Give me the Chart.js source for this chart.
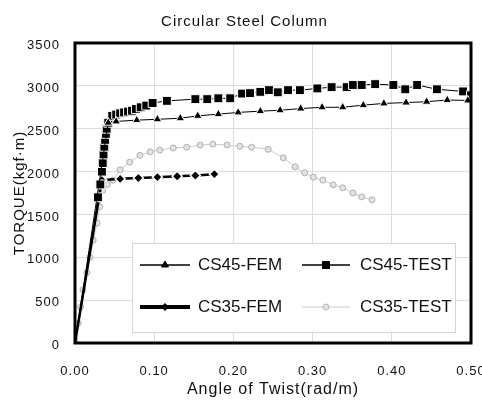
<!DOCTYPE html>
<html>
<head>
<meta charset="utf-8">
<script src="https://cdn.jsdelivr.net/npm/chart.js@4/dist/chart.umd.min.js"></script>
<style>
  html, body { margin: 0; padding: 0; background: #fff; }
  #wrap { width: 482px; height: 401px; }
</style>
</head>
<body>
<div id="wrap"><canvas id="grafico" width="482" height="401"></canvas></div>
<script>
// valores (angulo em rad/m, torque em kgf.m)
const xTickLabels = ['0.00', '0.10', '0.20', '0.30', '0.40', '0.50'];
const yTickLabels = ['0', '500', '1000', '1500', '2000', '2500', '3000', '3500'];

const cs45FemAngle = [0, 0.042, 0.052, 0.078, 0.104, 0.133, 0.155, 0.181, 0.206, 0.234, 0.259, 0.285, 0.312, 0.338, 0.364, 0.390, 0.418, 0.444, 0.470, 0.496];
const cs45FemTorque = [0, 2570, 2585, 2600, 2610, 2622, 2650, 2670, 2690, 2705, 2715, 2735, 2750, 2750, 2775, 2795, 2805, 2815, 2835, 2830];

const cs45TestAngle = [0, 0.012, 0.022, 0.029, 0.032, 0.034, 0.035, 0.036, 0.037, 0.038, 0.039, 0.040, 0.042, 0.047, 0.052, 0.057, 0.062, 0.067, 0.072, 0.077, 0.083, 0.090, 0.098, 0.116, 0.152, 0.167, 0.181, 0.196, 0.211, 0.221, 0.234, 0.245, 0.256, 0.269, 0.284, 0.306, 0.324, 0.343, 0.351, 0.362, 0.379, 0.402, 0.417, 0.432, 0.457, 0.490, 0.500];
const cs45TestTorque = [0, 650, 1250, 1700, 1850, 2000, 2100, 2200, 2290, 2370, 2440, 2500, 2570, 2650, 2665, 2680, 2690, 2700, 2710, 2730, 2750, 2770, 2800, 2825, 2845, 2845, 2855, 2855, 2910, 2915, 2930, 2950, 2925, 2950, 2950, 2970, 2985, 2985, 3010, 3010, 3020, 3010, 2960, 3010, 2960, 2935, 2890];

const cs35FemAngle = [0, 0.034, 0.057, 0.080, 0.104, 0.129, 0.152, 0.176];
const cs35FemTorque = [0, 1900, 1915, 1925, 1935, 1945, 1955, 1970];

const cs35TestAngle = [0, 0.004, 0.007, 0.010, 0.015, 0.019, 0.023, 0.028, 0.031, 0.035, 0.041, 0.048, 0.057, 0.069, 0.082, 0.095, 0.107, 0.124, 0.141, 0.158, 0.174, 0.192, 0.208, 0.223, 0.244, 0.263, 0.278, 0.290, 0.301, 0.313, 0.326, 0.338, 0.351, 0.362, 0.375];
const cs35TestTorque = [35, 230, 420, 620, 820, 1000, 1200, 1400, 1590, 1780, 1850, 1900, 2020, 2110, 2190, 2230, 2250, 2275, 2285, 2310, 2320, 2310, 2295, 2285, 2260, 2160, 2055, 1985, 1935, 1900, 1845, 1810, 1750, 1705, 1670];

const pontos = (xs, ys) => xs.map((x, i) => ({ x: x, y: ys[i] }));
const fonte = 'Liberation Sans, Arial, sans-serif';

// moldura grossa em volta da area do grafico
const moldura = {
  id: 'moldura',
  beforeDraw(chart) {
    chart.ctx.letterSpacing = '1px';
  },
  afterDatasetsDraw(chart) {
    const { ctx, chartArea: a } = chart;
    ctx.save();
    ctx.lineWidth = 3;
    ctx.strokeStyle = '#000';
    ctx.strokeRect(a.left, a.top, a.right - a.left, a.bottom - a.top);
    ctx.restore();
  }
};

// legenda 2x2 dentro da area do grafico
const legenda = {
  id: 'legenda',
  afterDraw(chart) {
    const ctx = chart.ctx;
    ctx.save();
    ctx.fillStyle = '#fff';
    ctx.fillRect(132, 243, 323, 89);
    ctx.strokeStyle = '#d4d4d4';
    ctx.lineWidth = 1;
    ctx.strokeRect(132.5, 243.5, 323, 89);

    const itens = [
      { x1: 140, x2: 190, tx: 198, y: 265, lw: 1.5, r: 4 },
      { x1: 302, x2: 350, tx: 360, y: 265, lw: 1.5, r: 5 },
      { x1: 140, x2: 190, tx: 198, y: 307, lw: 4, r: 3.5 },
      { x1: 302, x2: 350, tx: 360, y: 307, lw: 1, r: 3 }
    ];
    chart.data.datasets.forEach((ds, i) => {
      const it = itens[i];
      ctx.beginPath();
      ctx.strokeStyle = ds.borderColor;
      ctx.lineWidth = it.lw;
      ctx.moveTo(it.x1, it.y);
      ctx.lineTo(it.x2, it.y);
      ctx.stroke();

      ctx.fillStyle = ds.pointBackgroundColor;
      ctx.strokeStyle = i === 3 ? '#b8b8b8' : '#000';
      ctx.lineWidth = 1;
      Chart.helpers.drawPoint(ctx, { pointStyle: ds.pointStyle, radius: it.r, rotation: 0, borderWidth: 1 }, (it.x1 + it.x2) / 2, it.y);

      ctx.fillStyle = '#111';
      ctx.font = '17px ' + fonte;
      ctx.letterSpacing = '0px';
      ctx.textBaseline = 'middle';
      ctx.textAlign = 'left';
      ctx.fillText(ds.label, it.tx, it.y);
    });
    ctx.restore();
  }
};

new Chart(document.getElementById('grafico'), {
  type: 'line',
  data: {
    datasets: [
      {
        label: 'CS45-FEM',
        data: pontos(cs45FemAngle, cs45FemTorque),
        borderColor: '#000',
        borderWidth: 1,
        pointStyle: 'triangle',
        pointRadius: c => c.dataIndex === 0 ? 0 : 5,
        pointBackgroundColor: '#000',
        pointBorderColor: '#fff',
        pointBorderWidth: 1
      },
      {
        label: 'CS45-TEST',
        data: pontos(cs45TestAngle, cs45TestTorque),
        borderColor: '#000',
        borderWidth: 1,
        pointStyle: 'rect',
        pointRadius: c => (c.raw && c.raw.y < 1600) ? 0 : 6.3,
        pointBackgroundColor: '#000',
        pointBorderColor: '#fff',
        pointBorderWidth: 1
      },
      {
        label: 'CS35-FEM',
        data: pontos(cs35FemAngle, cs35FemTorque),
        borderColor: '#000',
        borderWidth: 2.5,
        pointStyle: 'rectRot',
        pointRadius: c => c.dataIndex === 0 ? 0 : 5,
        pointBackgroundColor: '#000',
        pointBorderColor: '#fff',
        pointBorderWidth: 1.5
      },
      {
        label: 'CS35-TEST',
        data: pontos(cs35TestAngle, cs35TestTorque),
        borderColor: '#cccccc',
        borderWidth: 1,
        pointStyle: 'circle',
        pointRadius: 3,
        pointBackgroundColor: '#e2e2e2',
        pointBorderColor: '#b0b0b0',
        pointBorderWidth: 1
      }
    ]
  },
  options: {
    responsive: false,
    animation: false,
    events: [],
    layout: { padding: { left: 18, right: 11, top: 0, bottom: 0 } },
    plugins: {
      legend: { display: false },
      tooltip: { enabled: false },
      title: {
        display: true,
        text: 'Circular Steel Column',
        color: '#111',
        font: { family: fonte, size: 15, weight: 'normal' },
        padding: { top: 13, bottom: 12 }
      }
    },
    scales: {
      x: {
        type: 'linear',
        min: 0,
        max: 0.5,
        afterFit: s => { s.height = 58; s.paddingLeft = 0; s.paddingRight = 0; },
        grid: { color: '#dcdcdc', drawTicks: false },
        border: { display: false },
        ticks: {
          stepSize: 0.1,
          padding: 21,
          maxRotation: 0,
          color: '#111',
          font: { family: fonte, size: 13 },
          callback: (v, i) => xTickLabels[i]
        },
        title: {
          display: true,
          text: 'Angle of Twist(rad/m)',
          color: '#111',
          font: { family: fonte, size: 16 },
          padding: { top: 0, bottom: 2 }
        }
      },
      y: {
        min: 0,
        max: 3500,
        afterFit: s => { s.width = 57; s.paddingTop = 0; s.paddingBottom = 0; },
        grid: { color: '#dcdcdc', drawTicks: false },
        border: { display: false },
        ticks: {
          stepSize: 500,
          padding: 15,
          labelOffset: 2.5,
          color: '#111',
          font: { family: fonte, size: 13 },
          callback: (v, i) => yTickLabels[i]
        },
        title: {
          display: true,
          text: 'TORQUE(kgf·m)',
          color: '#111',
          font: { family: fonte, size: 15 },
          padding: { top: -7, bottom: 0 }
        }
      }
    }
  },
  plugins: [moldura, legenda]
});
</script>
</body>
</html>
